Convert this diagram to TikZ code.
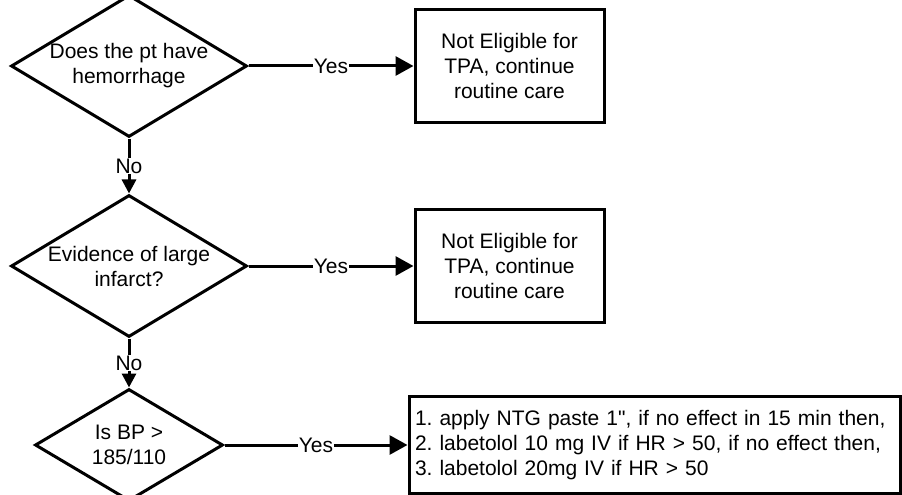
\documentclass[tikz,border=0pt]{standalone}
\usepackage{fontspec}
\setmainfont{Liberation Sans}[Ligatures=TeXOff]
\usetikzlibrary{arrows.meta,shapes.geometric,positioning}
\frenchspacing

\begin{document}
\begin{tikzpicture}[x=1pt, y=-1pt, node distance = 55pt and 165pt,
                    font=\fontsize{21}{25}\selectfont, line width=3pt,
                    decision/.style = {diamond, draw, align=center, inner sep=0pt,
                      aspect=1.66, minimum width=236pt, minimum height=142pt},
                    outcome/.style = {rectangle, draw, align=center, inner sep=0pt,
                      minimum width=189pt, minimum height=113pt},
                    yes/.style = {-{Triangle[length=18pt,width=19pt]}},
                    no/.style = {-{Triangle[length=14pt,width=14pt]}},
                    lbl/.style = {fill=white, inner sep=1pt}]
\useasboundingbox (0,0) rectangle (902,495);
    \node[decision] (hem) at (129,66) {Does the pt have\\hemorrhage};
\node[decision, below= of hem] (infarct) {Evidence of large\\infarct?};
\node[decision, below=49pt of infarct, aspect=1.68,
      minimum width=188pt, minimum height=112pt] (bp) {Is BP >\\185/110};
\node[outcome, right= of hem] (care1) {Not Eligible for\\TPA, continue\\routine care};
\node[outcome, right= of infarct] (care2) {Not Eligible for\\TPA, continue\\routine care};
\node[outcome, right=183pt of bp, align=left, inner sep=6pt,
      text width=479pt, minimum height=97pt] (meds)
      {1. apply NTG paste 1", if no effect in 15 min then,\\
       2. labetolol 10 mg IV if HR > 50, if no effect then,\\
       3. labetolol 20mg IV if HR > 50};
\coordinate (next) at (meds.south |- 0,495);
    \draw[yes] (hem) -- node[lbl] {Yes} (care1);
\draw[yes] (infarct) -- node[lbl] {Yes} (care2);
\draw[yes] (bp) -- node[lbl] {Yes} (meds);
\draw[no] (hem) -- node[lbl] {No} (infarct);
\draw[no] (infarct) -- node[lbl] {No} (bp);
\draw (meds.south) -- (next);
\end{tikzpicture}
\end{document}
